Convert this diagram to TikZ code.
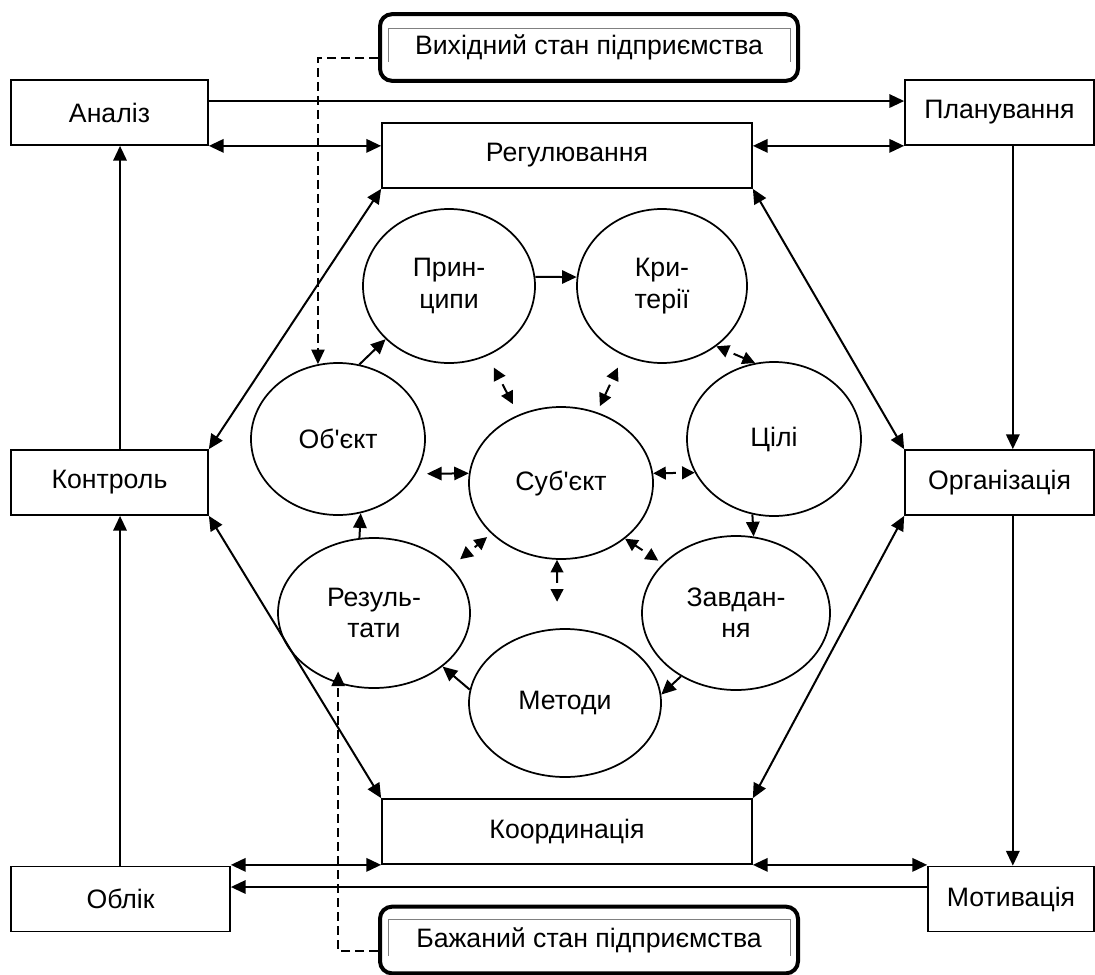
\documentclass[tikz,border=0pt]{standalone}
\usepackage{fontspec}
\setmainfont{Liberation Sans}[Ligatures=TeXOff]
\usetikzlibrary{arrows.meta,shapes.geometric,calc}
\begin{document}
\begin{tikzpicture}[x=0.75pt,y=-0.75pt,
  font=\fontsize{20}{23.5}\selectfont,
  >={Triangle[length=11pt,width=10pt]},
  box/.style={draw,line width=1.3pt,inner sep=0pt,align=center,minimum height=48.75pt},
  ell/.style={draw,ellipse,line width=1.3pt,inner sep=0pt,align=center},
  stbox/.style={draw,line width=3pt,rounded corners=9pt,minimum width=313.5pt,minimum height=50pt,inner sep=0pt},
  arr/.style={line width=1.5pt,->},
  dbl/.style={line width=1.5pt,<->},
  brk/.style={line width=1.5pt,{Triangle[length=9.5pt,width=9.5pt]}-{Triangle[length=9.5pt,width=9.5pt]},dash pattern=on 0pt off 5pt on 300pt},
  dsh/.style={line width=1.2pt,->,dash pattern=on 6.5pt off 4pt},
  innerfr/.style={draw=gray,line width=0.6pt}
]
\useasboundingbox (0,0) rectangle (1095,974);

% state boxes
\node[stbox] (vyh) at (589,47.5) {Вихідний стан підприємства};
\node[stbox] (baz) at (589,940) {Бажаний стан підприємства};
\draw[innerfr] ($(vyh.north west)+(10,50)$) -- ($(vyh.north west)+(10,16)$) -- ($(vyh.north east)+(-10,16)$) -- ($(vyh.north east)+(-10,50)$);
\draw[innerfr] ($(baz.north west)+(10,51)$) -- ($(baz.north west)+(10,15)$) -- ($(baz.north east)+(-10,15)$) -- ($(baz.north east)+(-10,51)$);

% rectangles
\node[box,minimum width=147.75pt] (an) at (109.5,112.5) {Аналіз};
\node[box,minimum width=141.75pt] (pl) at (999.5,112.5) {Планування};
\node[box,minimum width=277.5pt] (reg) at (567,155.5) {Регулювання};
\node[box,minimum width=147.75pt] (kon) at (109.5,482.5) {Контроль};
\node[box,minimum width=141.75pt] (org) at (999.5,482.5) {Організація};
\node[box,minimum width=277.5pt] (kor) at (567,831.5) {Координація};
\node[box,minimum width=164.25pt] (ob) at (120.5,899) {Облік};
\node[box,minimum width=124.5pt] (mot) at (1011,899) {Мотивація};

% ellipses
\node[ell,minimum width=129pt,minimum height=115.5pt] (pr) at (449,286) {Прин-\\ципи};
\node[ell,minimum width=127.5pt,minimum height=115.5pt] (kr) at (662,286) {Кри-\\терії};
\node[ell,minimum width=130.5pt,minimum height=114pt] (obj) at (338,439) {Об'єкт};
\node[ell,minimum width=138pt,minimum height=114pt] (sub) at (561,483) {Суб'єкт};
\node[ell,minimum width=130.5pt,minimum height=115.5pt] (cil) at (774,439) {Цілі};
\node[ell,minimum width=144pt,minimum height=112.5pt] (rez) at (374,613) {Резуль-\\тати};
\node[ell,minimum width=141pt,minimum height=115.5pt] (zav) at (736,613) {Завдан-\\ня};
\node[ell,minimum width=144pt,minimum height=111pt] (met) at (565,703) {Методи};

% outer connectors
\draw[arr] ([yshift=8.6pt]an.east) -- ([yshift=8.6pt]pl.west);
\draw[dbl] (an.south east) -- (an.south east -| reg.west);
\draw[dbl] (pl.south west -| reg.east) -- (pl.south west);
\draw[arr] ([xshift=10pt]pl.south) -- ([xshift=10pt]org.north);
\draw[arr] ([xshift=10pt]org.south) -- ([xshift=10pt]org.south |- mot.north);
\draw[arr] ([xshift=7.9pt]kon.north) -- ([xshift=7.9pt]kon.north |- an.south);
\draw[arr] ([xshift=7.9pt]kon.south |- ob.north) -- ([xshift=7.9pt]kon.south);
\draw[dbl] (kor.south west -| ob.east) -- (kor.south west);
\draw[dbl] (kor.south east) -- (kor.south east -| mot.west);
\draw[arr] ([yshift=9pt]mot.west) -- ([yshift=9pt]mot.west -| ob.east);

\draw[dbl] (reg.south west) -- (kon.north east);
\draw[dbl] (reg.south east) -- (org.north west);
\draw[dbl] (kon.south east) -- (kor.north west);
\draw[dbl] (org.south west) -- (kor.north east);

% dashed connectors
\draw[dsh] ([yshift=-7.9pt]vyh.west) -| (obj.105);
\draw[dsh,shorten >=-9pt] ([yshift=-8.25pt]baz.west) -| (rez.243);

% inner connectors
\draw[arr] (pr.6) -- (kr.174);
\draw[arr] (obj.74) -- (pr.220);
\draw[arr] (cil.254) -- (zav.77);
\draw[arr] (zav.229) -- (met.5);
\draw[arr] (met.172) -- (rez.322);
\draw[arr] (rez.101) -- (obj.287);
\draw[dbl,shorten <=8pt] (obj.336) -- (sub.174);

\draw[brk,shorten <=10pt,shorten >=9pt] (pr.299) -- (sub.122);
\draw[brk,shorten <=10pt,shorten >=5pt] (kr.241) -- (sub.63);
\draw[brk] (kr.312) -- (cil.104);
\draw[brk] (cil.203.6) -- (sub.6.3);
\draw[brk,shorten <=4pt] (zav.146.4) -- (sub.319.5);
\draw[brk,shorten <=9pt,shorten >=4pt] (rez.31) -- (sub.216.7);
\draw[brk,shorten <=20pt] (met.96) -- (sub.267);
\end{tikzpicture}
\end{document}
